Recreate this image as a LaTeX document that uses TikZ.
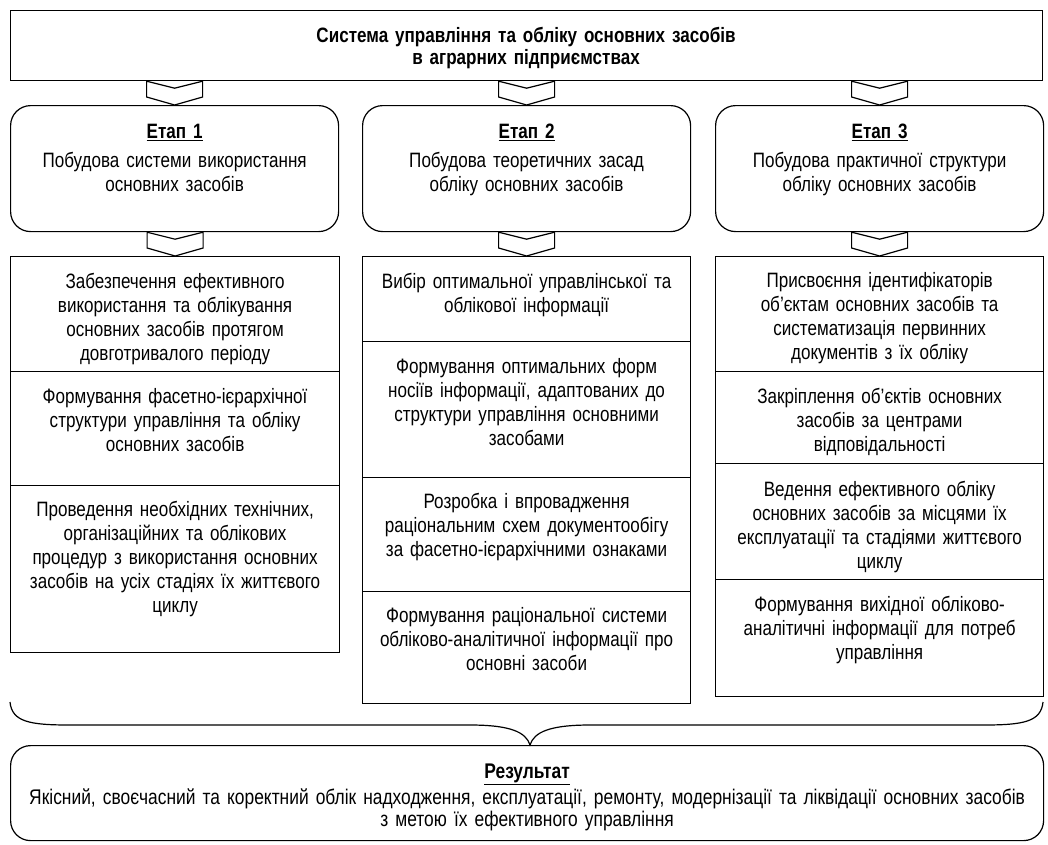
\documentclass[tikz,border=0pt]{standalone}
\usepackage{fontspec}
\setmainfont{Liberation Sans}[FakeStretch=0.82]
\usetikzlibrary{calc}
\begin{document}
\begin{tikzpicture}[x=1pt,y=-1pt,
  frame/.style={draw, line width=1.2pt, fill=white, inner sep=0pt, anchor=north west},
  rframe/.style={frame, rounded corners=20pt},
  chev/.style={draw, line width=1.2pt, fill=white, line join=miter},
  brace/.style={draw, line width=1.2pt},
  txt/.style={inner sep=0pt, anchor=north, align=center, text width=320pt, font=\fontsize{20.8}{24}\selectfont},
  ttl/.style={inner sep=0pt, anchor=north, align=center, text width=1000pt, font=\fontsize{20.8}{22}\selectfont\bfseries},
  rtxt/.style={inner sep=0pt, anchor=north, align=center, text width=1030pt, font=\fontsize{21.2}{22}\selectfont}]
\path[use as bounding box] (0,0) rectangle (1048,844);

% title
\node[frame, minimum width=1032pt, minimum height=70pt] (top) at (10,10) {};
\node[ttl] (toptxt) at (526,27) {Система управління та обліку основних засобів\\в аграрних підприємствах};

% stage boxes
\node[rframe, minimum width=328pt, minimum height=126pt] (e1) at (10,105) {};
\node[rframe, minimum width=328pt, minimum height=126pt] (e2) at (362,105) {};
\node[rframe, minimum width=328pt, minimum height=126pt] (e3) at (715,105) {};
\node[txt] (e1t) at ($(e1.north)+(0,19)$) {\underline{\textbf{Етап 1}}\\[5pt]Побудова системи використання\\основних засобів};
\node[txt] (e2t) at ($(e2.north)+(0,19)$) {\underline{\textbf{Етап 2}}\\[5pt]Побудова теоретичних засад\\обліку основних засобів};
\node[txt] (e3t) at ($(e3.north)+(0,19)$) {\underline{\textbf{Етап 3}}\\[5pt]Побудова практичної структури\\обліку основних засобів};

% column 1
\node[frame, minimum width=329pt, minimum height=115pt] (c1a) at (10,256) {};
\node[frame, minimum width=329pt, minimum height=114pt] (c1b) at (10,371) {};
\node[frame, minimum width=329pt, minimum height=167pt] (c1c) at (10,485) {};
\node[txt] at ($(c1a.north)+(0,17)$) {Забезпечення ефективного\\використання та облікування\\основних засобів протягом\\довготривалого періоду};
\node[txt] at ($(c1b.north)+(0,17)$) {Формування фасетно-ієрархічної\\структури управління та обліку\\основних засобів};
\node[txt] at ($(c1c.north)+(0,16)$) {Проведення необхідних технічних,\\організаційних та облікових\\процедур з використання основних\\засобів на усіх стадіях їх життєвого\\циклу};

% column 2
\node[frame, minimum width=328pt, minimum height=85pt] (c2a) at (362,256) {};
\node[frame, minimum width=328pt, minimum height=136pt] (c2b) at (362,341) {};
\node[frame, minimum width=328pt, minimum height=114pt] (c2c) at (362,477) {};
\node[frame, minimum width=328pt, minimum height=112pt] (c2d) at (362,591) {};
\node[txt] at ($(c2a.north)+(0,17)$) {Вибір оптимальної управлінської та\\облікової інформації};
\node[txt] at ($(c2b.north)+(0,17)$) {Формування оптимальних форм\\носіїв інформації, адаптованих до\\структури управління основними\\засобами};
\node[txt] at ($(c2c.north)+(0,16)$) {Розробка і впровадження\\раціональним схем документообігу\\за фасетно-ієрархічними ознаками};
\node[txt] at ($(c2d.north)+(0,16)$) {Формування раціональної системи\\обліково-аналітичної інформації про\\основні засоби};

% column 3
\node[frame, minimum width=328pt, minimum height=115pt] (c3a) at (715,256) {};
\node[frame, minimum width=328pt, minimum height=92pt] (c3b) at (715,371) {};
\node[frame, minimum width=328pt, minimum height=116pt] (c3c) at (715,463) {};
\node[frame, minimum width=328pt, minimum height=117pt] (c3d) at (715,579) {};
\node[txt] at ($(c3a.north)+(0,16)$) {Присвоєння ідентифікаторів\\об’єктам основних засобів та\\систематизація первинних\\документів з їх обліку};
\node[txt] at ($(c3b.north)+(0,17)$) {Закріплення об’єктів основних\\засобів за центрами\\відповідальності};
\node[txt] at ($(c3c.north)+(0,18)$) {Ведення ефективного обліку\\основних засобів за місцями їх\\експлуатації та стадіями життєвого\\циклу};
\node[txt] at ($(c3d.north)+(0,17)$) {Формування вихідної обліково-\\аналітичні інформації для потреб\\управління};

% result
\node[rframe, minimum width=1033pt, minimum height=95pt] (res) at (10,745) {};
\node[rtxt] (rest) at ($(res.north)+(0,19)$) {\underline{\textbf{Результат}}\\[3pt]Якісний, своєчасний та коректний облік надходження, експлуатації, ремонту, модернізації та ліквідації основних засобів\\з метою їх ефективного управління};

% chevrons
\newcommand\mychev[2]{%
  \path (#1.south -| #2.north) coordinate (ct) (#2.north) coordinate (cb);
  \draw[chev] ($(ct)+(-28,0)$) -- ($(ct)+(0,7)$) -- ($(ct)+(28,0)$) -- ($(cb)+(28,-8)$) -- (cb) -- ($(cb)+(-28,-8)$) -- cycle;}
\mychev{top}{e1}
\mychev{top}{e2}
\mychev{top}{e3}
\mychev{e1}{c1a}
\mychev{e2}{c2a}
\mychev{e3}{c3a}

% brace
\coordinate (bl) at (10,702);
\coordinate (br) at (1043,702);
\coordinate (tip) at (res.north -| 530,0);
\draw[brace] (bl) .. controls (12,722) and (30,725) .. (70,725) -- (470,725)
  .. controls (510,725) and (526,732) .. (tip)
  .. controls (534,732) and (550,725) .. (590,725) -- (983,725)
  .. controls (1023,725) and (1041,722) .. (br);
\end{tikzpicture}
\end{document}
